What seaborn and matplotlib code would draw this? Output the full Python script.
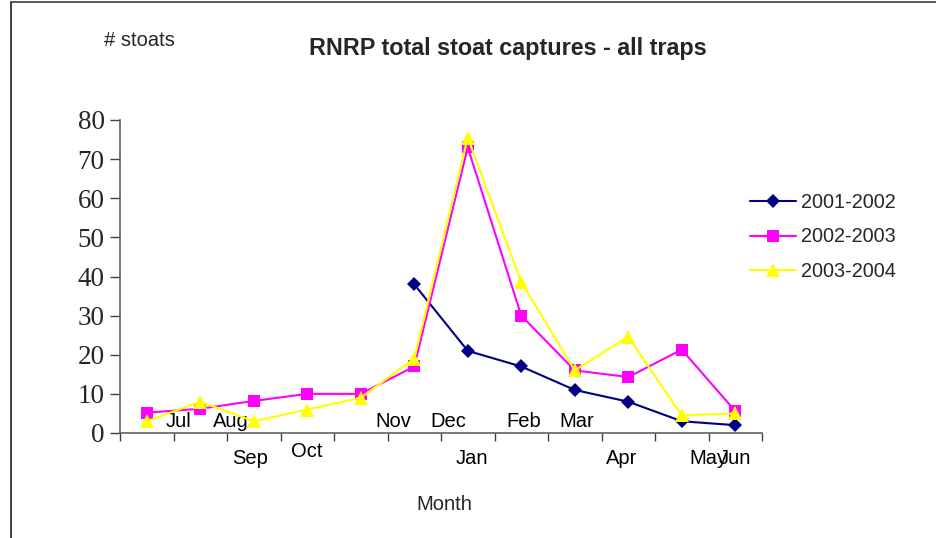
import numpy as np
import pandas as pd
import matplotlib
matplotlib.use("Agg")
import matplotlib.pyplot as plt
import matplotlib.transforms as mtransforms
from matplotlib.lines import Line2D
import seaborn as sns

# ---- data ----
months = ["Jul", "Aug", "Sep", "Oct", "Nov", "Dec", "Jan", "Feb", "Mar", "Apr", "May", "Jun"]
seasons = ["2001-2002", "2002-2003", "2003-2004"]
s2001 = [np.nan, np.nan, np.nan, np.nan, np.nan, 38, 21, 17, 11, 8, 3, 2]
s2002 = [5.2, 6.2, 8.2, 10, 10, 17, 73, 30, 16, 14.3, 21.3, 5.6]
s2003 = [3, 8, 3, 6, 9, 19, 75.5, 38.6, 16, 24.6, 4.5, 5]
yticks = [0, 10, 20, 30, 40, 50, 60, 70, 80]

# month label placement (Excel-style staggered labels)
label_x = [0.6, 1.57, 1.93, 2.99, 4.6, 5.64, 6.07, 7.05, 8.04, 8.88, 10.5, 11.0]
label_row = [0, 0, 1, 2, 0, 0, 1, 0, 0, 1, 1, 1]

sns.set_style("white")
plt.rcParams["font.family"] = ["Liberation Sans", "DejaVu Sans"]

rows = []
for name, vals in zip(seasons, [s2001, s2002, s2003]):
    for i, v in enumerate(vals):
        rows.append({"idx": i, "value": v, "season": name})
df = pd.DataFrame(rows)

W, H = 936, 538
fig = plt.figure(figsize=(W / 100, H / 100), dpi=100)
ax = fig.add_axes([120 / W, (H - 433) / H, 642 / W, 313 / H])

palette = {"2001-2002": "#000080", "2002-2003": "#FF00FF", "2003-2004": "#FFFF00"}
markers = {"2001-2002": "D", "2002-2003": "s", "2003-2004": "^"}
msizes = {"2001-2002": 7.5, "2002-2003": 8, "2003-2004": 10}

for name in seasons:
    sub = df[df["season"] == name].dropna()
    sns.lineplot(data=sub, x="idx", y="value", ax=ax, color=palette[name],
                 marker=markers[name], markersize=msizes[name], markeredgewidth=0,
                 linewidth=1.5, label=name, legend=False, zorder=3)

ax.set_xlim(-0.5, 11.5)
ax.set_ylim(0, 80)
ax.set_xticks(np.arange(-0.5, 12, 1.0))
ax.set_xticklabels([])
ax.set_yticks(yticks)
ax.set_yticklabels([str(t) for t in yticks], fontfamily="Liberation Serif", fontsize=19.5)
ax.tick_params(axis="y", direction="out", length=7, width=1, color="#404040", pad=4, left=True)
ax.tick_params(axis="x", direction="out", length=6, width=1, color="#404040", bottom=True)
for side in ["top", "right"]:
    ax.spines[side].set_visible(False)
for side in ["left", "bottom"]:
    ax.spines[side].set_color("#606060")
    ax.spines[side].set_linewidth(1.2)
ax.set_xlabel("")
ax.set_ylabel("")

trans = mtransforms.blended_transform_factory(ax.transData, ax.transAxes)
row_y = {0: 0.038, 1: -0.083, 2: -0.058}
for m, x, r in zip(months, label_x, label_row):
    ax.text(x, row_y[r], m, transform=trans, ha="center", va="center", fontsize=14.5,
            color="black", zorder=2)

fig.text(444 / W, 1 - 505 / H, "Month", ha="center", va="center", fontsize=14.5)
fig.text(139 / W, 1 - 41 / H, "# stoats", ha="center", va="center", fontsize=14.5)
fig.text(508 / W, 1 - 48 / H, "RNRP total stoat captures - all traps", ha="center",
         va="center", fontsize=16.8, fontweight="bold")

handles, labels = ax.get_legend_handles_labels()
leg = ax.legend(handles, labels, loc="upper left", bbox_to_anchor=(750 / W, 1 - 193 / H),
                bbox_transform=fig.transFigure, frameon=False, fontsize=14.3,
                handlelength=2.3, handletextpad=0.25, labelspacing=0.78, borderpad=0,
                borderaxespad=0)

fig.add_artist(Line2D([11 / W, 11 / W], [0, 1 - 2 / H], color="#202020", lw=1.2))
fig.add_artist(Line2D([11 / W, 1], [1 - 2 / H, 1 - 2 / H], color="#404040", lw=1.2))

fig.savefig("out.png", dpi=100)
